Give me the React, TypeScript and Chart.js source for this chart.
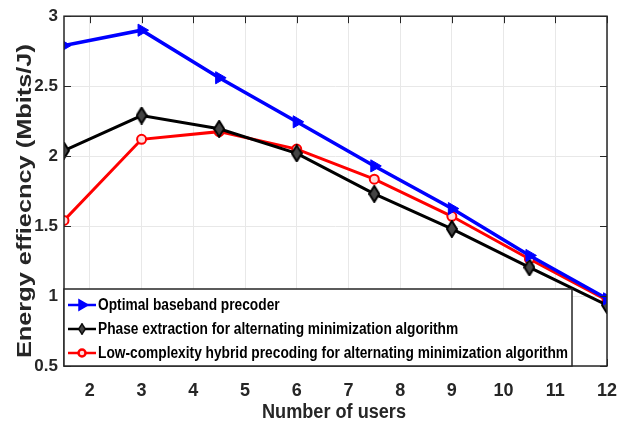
import React, { useEffect, useRef } from "react";
import { Chart, registerables } from "chart.js";
import { drawPoint } from "chart.js/helpers";

Chart.register(...registerables);

const users = [1.5, 3, 4.5, 6, 7.5, 9, 10.5, 12];
const optimal = [2.79, 2.9, 2.56, 2.245, 1.93, 1.625, 1.29, 0.98];
const phaseExtraction = [2.04, 2.29, 2.195, 2.02, 1.73, 1.48, 1.205, 0.935];
const lowComplexity = [1.54, 2.12, 2.175, 2.05, 1.835, 1.57, 1.265, 0.97];
const xTicks = [2, 3, 4, 5, 6, 7, 8, 9, 10, 11, 12];
const yTicks = [0.5, 1, 1.5, 2, 2.5, 3];
const seriesNames = [
  "Optimal baseband precoder",
  "Phase extraction for alternating minimization algorithm",
  "Low-complexity hybrid precoding for alternating minimization algorithm",
];
const xTitle = "Number of users";
const yTitle = "Energy effiecncy (Mbits/J)";

const FONT = "'Liberation Sans', Arial, sans-serif";
const TEXT = "#262626";

function makeDiamond(): HTMLCanvasElement {
  const c = document.createElement("canvas");
  c.width = 12;
  c.height = 18;
  const g = c.getContext("2d")!;
  g.beginPath();
  g.moveTo(6, 1);
  g.lineTo(11, 9);
  g.lineTo(6, 17);
  g.lineTo(1, 9);
  g.closePath();
  g.fillStyle = "#444";
  g.fill();
  g.lineWidth = 2;
  g.strokeStyle = "#000";
  g.stroke();
  return c;
}

function fitText(ctx: any, text: string, x: number, y: number, size: number, scaleX: number, align: string) {
  ctx.save();
  ctx.translate(x, y);
  ctx.scale(scaleX, 1);
  ctx.font = "bold " + size + "px " + FONT;
  ctx.textAlign = align;
  ctx.textBaseline = "middle";
  ctx.fillText(text, 0, 0);
  ctx.restore();
}

const frame = {
  id: "frame",
  afterDraw(chart: any) {
    const { ctx, chartArea: a, scales } = chart;
    ctx.save();
    ctx.strokeStyle = TEXT;
    ctx.lineWidth = 1.5;
    ctx.strokeRect(a.left, a.top, a.right - a.left, a.bottom - a.top);
    ctx.lineWidth = 1;
    const L = 7;
    for (const v of xTicks) {
      const x = Math.round(scales.x.getPixelForValue(v)) + 0.5;
      ctx.beginPath();
      ctx.moveTo(x, a.bottom);
      ctx.lineTo(x, a.bottom - L);
      ctx.moveTo(x, a.top);
      ctx.lineTo(x, a.top + L);
      ctx.stroke();
    }
    for (const v of yTicks) {
      const y = Math.round(scales.y.getPixelForValue(v)) + 0.5;
      ctx.beginPath();
      ctx.moveTo(a.left, y);
      ctx.lineTo(a.left + L, y);
      ctx.moveTo(a.right, y);
      ctx.lineTo(a.right - L, y);
      ctx.stroke();
    }

    // axis titles
    ctx.fillStyle = TEXT;
    ctx.font = "bold 20px " + FONT;
    const xw = ctx.measureText(xTitle).width;
    fitText(ctx, xTitle, 334, 412, 20, 144 / xw, "center");
    ctx.save();
    ctx.translate(25, (a.top + a.bottom) / 2 + 10);
    ctx.rotate(-Math.PI / 2);
    ctx.font = "bold 21px " + FONT;
    const yw = ctx.measureText(yTitle).width;
    fitText(ctx, yTitle, 0, 0, 21, 314 / yw, "center");
    ctx.restore();

    // legend
    const bx = a.left, by = 289, bw = 508, bh = a.bottom - by;
    ctx.fillStyle = "#ffffff";
    ctx.fillRect(bx, by, bw, bh);
    ctx.strokeStyle = TEXT;
    ctx.lineWidth = 1.5;
    ctx.strokeRect(bx, by, bw, bh);
    ctx.font = "bold 16px " + FONT;
    const longest = ctx.measureText(seriesNames[2]).width;
    const sx = 470 / longest;
    chart.data.datasets.forEach((ds: any, i: number) => {
      const y = by + 16 + i * 24;
      ctx.strokeStyle = ds.borderColor;
      ctx.lineWidth = 2.5;
      ctx.beginPath();
      ctx.moveTo(bx + 4, y);
      ctx.lineTo(bx + 32, y);
      ctx.stroke();
      ctx.fillStyle = ds.pointBackgroundColor;
      ctx.strokeStyle = ds.borderColor;
      if (ds.pointStyle instanceof HTMLCanvasElement) {
        ctx.drawImage(ds.pointStyle, bx + 18 - 4, y - 6, 8, 12);
      } else {
        drawPoint(ctx, {
          pointStyle: ds.pointStyle,
          rotation: ds.pointRotation || 0,
          radius: i === 0 ? 5 : 3.5,
          borderWidth: 2,
        } as any, bx + 18, y);
      }
      ctx.fillStyle = "#000";
      fitText(ctx, ds.label, bx + 34, y + 1, 16, sx, "left");
    });
    ctx.restore();
  },
};

export default function App() {
  const ref = useRef<HTMLCanvasElement>(null);
  useEffect(() => {
    const diamond = makeDiamond();
    const chart = new Chart(ref.current!, {
      type: "line",
      data: {
        labels: users,
        datasets: [
          {
            label: seriesNames[0],
            data: users.map((x, i) => ({ x, y: optimal[i] })),
            borderColor: "#0000ff",
            backgroundColor: "#0000ff",
            pointBackgroundColor: "#0000ff",
            pointStyle: "triangle",
            pointRotation: 90,
            pointRadius: 7,
            pointBorderWidth: 1,
            borderWidth: 3.5,
          },
          {
            label: seriesNames[1],
            data: users.map((x, i) => ({ x, y: phaseExtraction[i] })),
            borderColor: "#000000",
            backgroundColor: "#000000",
            pointBackgroundColor: "#000000",
            pointStyle: diamond,
            pointRadius: 6,
            borderWidth: 3,
          },
          {
            label: seriesNames[2],
            data: users.map((x, i) => ({ x, y: lowComplexity[i] })),
            borderColor: "#ff0000",
            backgroundColor: "#ffdddd",
            pointBackgroundColor: "#ffdddd",
            pointStyle: "circle",
            pointRadius: 4.5,
            pointBorderWidth: 2,
            borderWidth: 3,
          },
        ],
      },
      options: {
        animation: false,
        responsive: false,
        layout: { padding: { top: 15, right: 20, left: 0, bottom: 0 } },
        plugins: { legend: { display: false }, tooltip: { enabled: false } },
        scales: {
          x: {
            type: "linear",
            min: 1.5,
            max: 12,
            afterBuildTicks: (s: any) => {
              s.ticks = xTicks.map((v) => ({ value: v }));
            },
            afterFit: (s: any) => {
              s.height = 58;
              s.paddingRight = 0;
            },
            grid: { color: "#e8e8e8", drawTicks: false, lineWidth: 1 },
            border: { display: false },
            ticks: {
              color: TEXT,
              font: { family: FONT, size: 18, weight: "bold" },
              padding: 14,
              maxRotation: 0,
            },
          },
          y: {
            min: 0.5,
            max: 3,
            afterBuildTicks: (s: any) => {
              s.ticks = yTicks.map((v) => ({ value: v }));
            },
            afterFit: (s: any) => {
              s.width = 64;
            },
            grid: { color: "#e8e8e8", drawTicks: false, lineWidth: 1 },
            border: { display: false },
            ticks: {
              color: TEXT,
              font: { family: FONT, size: 17, weight: "bold" },
              padding: 6,
              callback: (v: any) => String(v),
            },
          },
        },
      },
      plugins: [frame],
    } as any);
    return () => chart.destroy();
  }, []);
  return (
    <div style={{ position: "fixed", left: 0, top: 0, width: 627, height: 424, background: "#fff" }}>
      <canvas ref={ref} width={627} height={424} style={{ display: "block" }} />
    </div>
  );
}
